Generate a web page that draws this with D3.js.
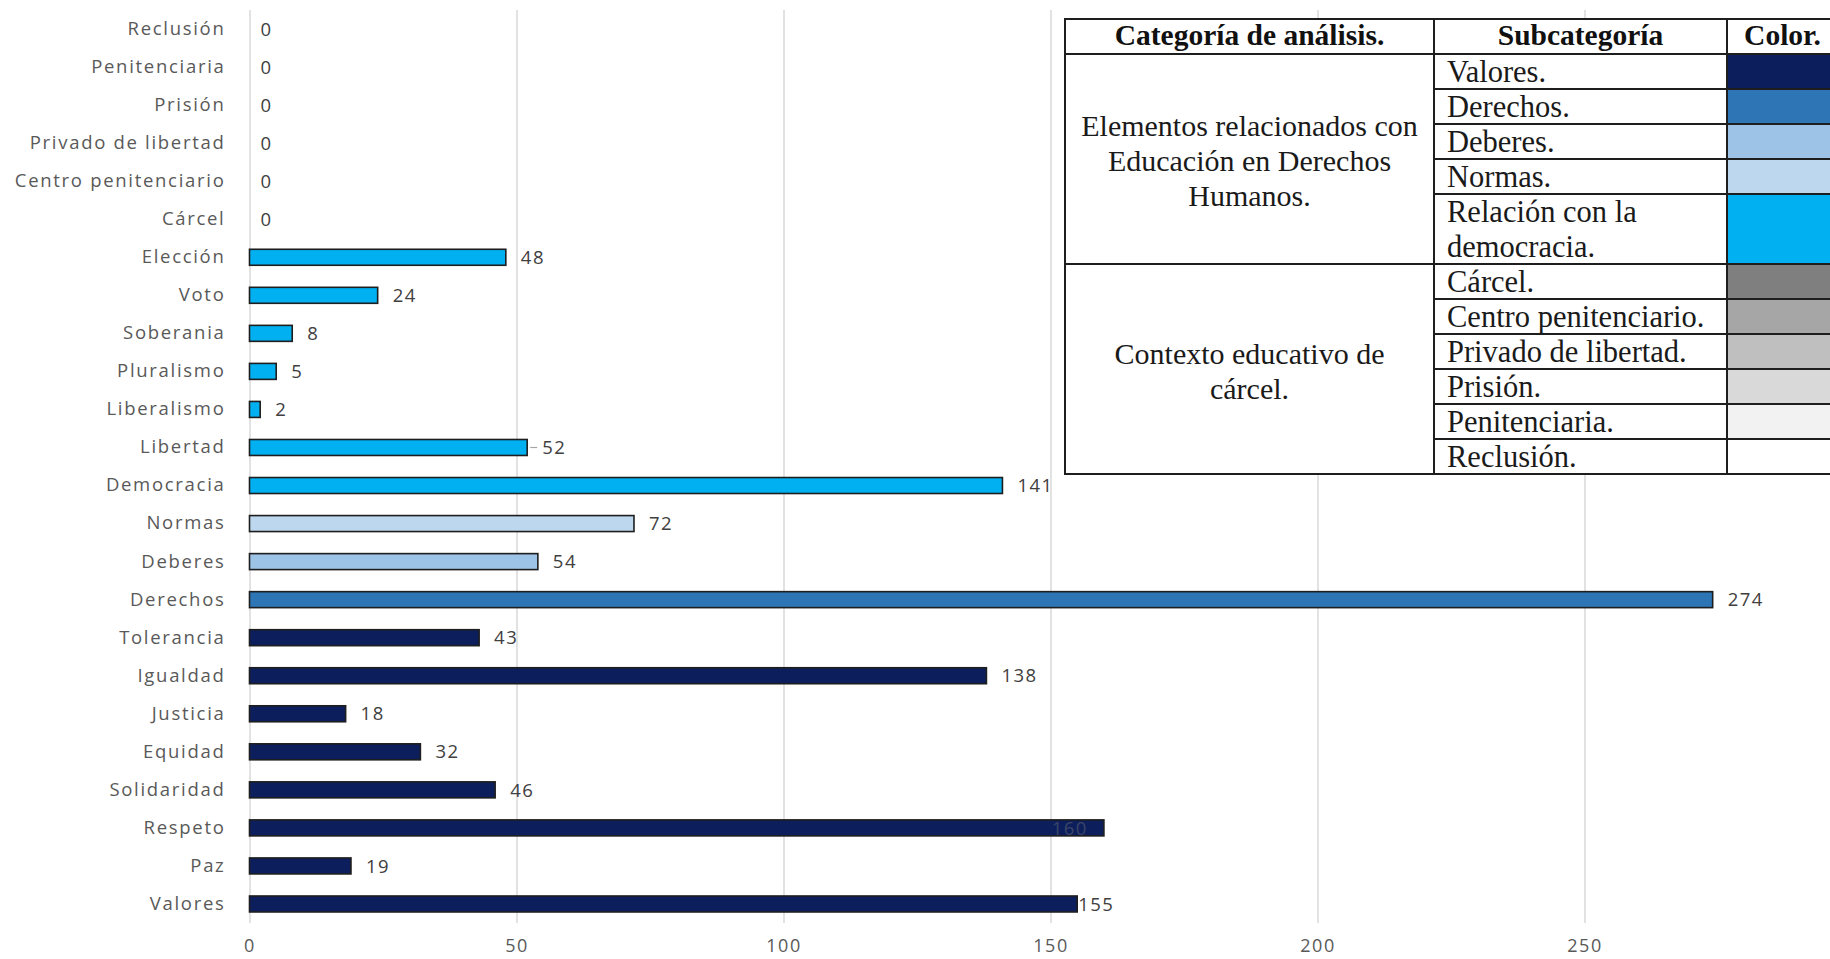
<!DOCTYPE html>
<html>
<head>
<meta charset="utf-8">
<script src="https://cdn.jsdelivr.net/npm/d3@7"></script>
<style>
  body { margin: 0; background: #fff; }
  svg { display: block; }
</style>
</head>
<body>
<svg id="chart"></svg>
<script>
// bars, listed bottom to top as in the source sheet
const categories = [
  'Valores', 'Paz', 'Respeto', 'Solidaridad', 'Equidad', 'Justicia', 'Igualdad', 'Tolerancia',
  'Derechos', 'Deberes', 'Normas',
  'Democracia', 'Libertad', 'Liberalismo', 'Pluralismo', 'Soberania', 'Voto', 'Elección',
  'Cárcel', 'Centro penitenciario', 'Privado de libertad', 'Prisión', 'Penitenciaria', 'Reclusión'
];
const values = [155, 19, 160, 46, 32, 18, 138, 43, 274, 54, 72, 141, 52, 2, 5, 8, 24, 48, 0, 0, 0, 0, 0, 0];
// index into subcategories for each bar
const barGroup = [0, 0, 0, 0, 0, 0, 0, 0, 1, 2, 3, 4, 4, 4, 4, 4, 4, 4, 5, 6, 7, 8, 9, 10];
const xTicks = [0, 50, 100, 150, 200, 250];

// colour key table
const tableHeader = ['Categoría de análisis.', 'Subcategoría', 'Color.'];
const analysisCategories = [
  ['Elementos relacionados con', 'Educación en Derechos', 'Humanos.'],
  ['Contexto educativo de', 'cárcel.']
];
const subcategories = [
  ['Valores.'], ['Derechos.'], ['Deberes.'], ['Normas.'], ['Relación con la', 'democracia.'],
  ['Cárcel.'], ['Centro penitenciario.'], ['Privado de libertad.'], ['Prisión.'], ['Penitenciaria.'], ['Reclusión.']
];
const subcategoryOf = [0, 0, 0, 0, 0, 1, 1, 1, 1, 1, 1];
const subcategoryColors = [
  '#0c1f5c', '#2e75b6', '#9dc3e6', '#bdd7ee', '#00b0f0',
  '#7f7f7f', '#a6a6a6', '#bfbfbf', '#d9d9d9', '#f2f2f2', '#ffffff'
];

// label quirks
const insideLabels = ['Respeto'];
const tightLabels = ['Valores'];
const leaderLabels = ['Libertad'];

const svgWidth = 1830, svgHeight = 959;
const plotTop = 10, plotBottom = 923, x0 = 249.5;

const svg = d3.select('#chart')
    .attr('width', svgWidth)
    .attr('height', svgHeight)
    .style('font-family', '"Open Sans", sans-serif');

// axis runs to 300, just past the right edge of the picture
const x = d3.scaleLinear()
    .domain([0, 300])
    .range([x0, x0 + 6 * 267]);

const y = d3.scaleBand()
    .domain(categories.slice().reverse())
    .range([plotTop, plotBottom])
    .paddingInner(0.58)
    .paddingOuter(0.29);

const bars = categories.map((c, i) => ({name: c, value: values[i], color: subcategoryColors[barGroup[i]]}));

// gridlines
const grid = svg.append('g')
    .attr('transform', `translate(0,${plotBottom})`)
    .call(d3.axisBottom(x).tickValues(xTicks).tickSize(-(plotBottom - plotTop)).tickFormat(''));
grid.select('.domain').remove();
grid.selectAll('line').attr('stroke', '#d9d9d9').attr('stroke-width', 1.5);

// tick labels
const xAxis = svg.append('g')
    .attr('transform', `translate(0,${plotBottom})`)
    .call(d3.axisBottom(x).tickValues(xTicks).tickSize(0).tickPadding(16));
xAxis.select('.domain').remove();
xAxis.selectAll('text')
    .attr('fill', '#595959')
    .style('font-size', '18px')
    .style('font-family', '"Open Sans", sans-serif')
    .style('letter-spacing', '1.5px');

// category labels
const yAxis = svg.append('g')
    .attr('transform', `translate(${x0},0)`)
    .call(d3.axisLeft(y).tickSize(0).tickPadding(24));
yAxis.select('.domain').remove();
yAxis.selectAll('text')
    .attr('fill', '#595959')
    .style('font-size', '18.5px')
    .style('font-family', '"Open Sans", sans-serif')
    .style('letter-spacing', '1.7px');

// bars
svg.append('g')
    .selectAll('rect')
    .data(bars.filter(d => d.value > 0))
    .enter().append('rect')
    .attr('x', x(0))
    .attr('y', d => y(d.name))
    .attr('width', d => x(d.value) - x(0))
    .attr('height', y.bandwidth())
    .attr('fill', d => d.color)
    .attr('stroke', '#1e1e1e')
    .attr('stroke-width', 1.6);

// leader line
svg.append('g')
    .selectAll('line')
    .data(bars.filter(d => leaderLabels.includes(d.name)))
    .enter().append('line')
    .attr('x1', d => x(d.value) + 3)
    .attr('x2', d => x(d.value) + 10)
    .attr('y1', d => y(d.name) + y.bandwidth() / 2)
    .attr('y2', d => y(d.name) + y.bandwidth() / 2)
    .attr('stroke', '#a6a6a6')
    .attr('stroke-width', 1.2);

// value labels
svg.append('g')
    .selectAll('text')
    .data(bars)
    .enter().append('text')
    .attr('x', d => {
      if (insideLabels.includes(d.name)) return x(d.value) - 16;
      if (tightLabels.includes(d.name)) return x(d.value) + 1;
      return x(d.value) + (d.value === 0 ? 11 : 15);
    })
    .attr('y', d => y(d.name) + y.bandwidth() / 2)
    .attr('dy', '0.36em')
    .attr('text-anchor', d => insideLabels.includes(d.name) ? 'end' : 'start')
    .attr('fill', d => insideLabels.includes(d.name) ? '#3a4466' : '#404040')
    .style('font-size', '18.5px')
    .style('letter-spacing', '1.5px')
    .text(d => d.value);

// colour key table
const table = svg.append('g').style('font-family', '"Liberation Serif", "Times New Roman", serif');
const tLeft = 1065, tTop = 19, tRight = 1834;
const colX = [tLeft, 1434, 1727, tRight];
const headerH = 35, lineH = 35;

let rowTop = tTop + headerH;
const subRows = subcategories.map((lines, i) => {
  const r = {lines, top: rowTop, height: lines.length * lineH, color: subcategoryColors[i], group: subcategoryOf[i]};
  rowTop += r.height;
  return r;
});
const tBottom = rowTop;
const groupRows = analysisCategories.map((lines, g) => {
  const rows = subRows.filter(r => r.group === g);
  return {lines, top: rows[0].top, bottom: rows[rows.length - 1].top + rows[rows.length - 1].height};
});

table.append('rect')
    .attr('x', tLeft).attr('y', tTop)
    .attr('width', tRight - tLeft).attr('height', tBottom - tTop)
    .attr('fill', '#fff');

table.selectAll('rect.swatch')
    .data(subRows)
    .enter().append('rect')
    .attr('class', 'swatch')
    .attr('x', colX[2]).attr('y', d => d.top)
    .attr('width', colX[3] - colX[2]).attr('height', d => d.height)
    .attr('fill', d => d.color);

// header
table.selectAll('text.head')
    .data(tableHeader)
    .enter().append('text')
    .attr('class', 'head')
    .attr('x', (d, i) => (colX[i] + colX[i + 1]) / 2 + (i === 2 ? 2 : 0))
    .attr('y', tTop + 26)
    .attr('text-anchor', 'middle')
    .attr('font-weight', 'bold')
    .attr('fill', '#111')
    .style('font-size', '29.5px')
    .text(d => d);

// analysis categories (merged cells)
groupRows.forEach(g => {
  const mid = (g.top + g.bottom) / 2 + 2;
  const n = g.lines.length;
  table.append('g').selectAll('text')
      .data(g.lines)
      .enter().append('text')
      .attr('x', (colX[0] + colX[1]) / 2)
      .attr('y', (d, i) => mid + (i - (n - 1) / 2) * 35 + 10)
      .attr('text-anchor', 'middle')
      .attr('fill', '#1a1a1a')
      .style('font-size', '30px')
      .text(d => d);
});

// subcategories
subRows.forEach(r => {
  table.append('g').selectAll('text')
      .data(r.lines)
      .enter().append('text')
      .attr('x', colX[1] + 13)
      .attr('y', (d, i) => r.top + 28 + i * lineH)
      .attr('fill', '#1a1a1a')
      .style('font-size', '30.5px')
      .text(d => d);
});

// borders
const border = table.append('g').attr('stroke', '#1e1e1e').attr('stroke-width', 2);
border.append('rect')
    .attr('x', tLeft).attr('y', tTop)
    .attr('width', tRight - tLeft).attr('height', tBottom - tTop)
    .attr('fill', 'none');
border.append('line')
    .attr('x1', tLeft).attr('x2', tRight)
    .attr('y1', tTop + headerH).attr('y2', tTop + headerH);
border.selectAll('line.row')
    .data(subRows.slice(1))
    .enter().append('line')
    .attr('class', 'row')
    .attr('x1', d => groupRows.some(g => g.top === d.top) ? tLeft : colX[1])
    .attr('x2', tRight)
    .attr('y1', d => d.top).attr('y2', d => d.top);
border.selectAll('line.col')
    .data([colX[1], colX[2]])
    .enter().append('line')
    .attr('class', 'col')
    .attr('x1', d => d).attr('x2', d => d)
    .attr('y1', tTop).attr('y2', tBottom);
</script>
</body>
</html>
